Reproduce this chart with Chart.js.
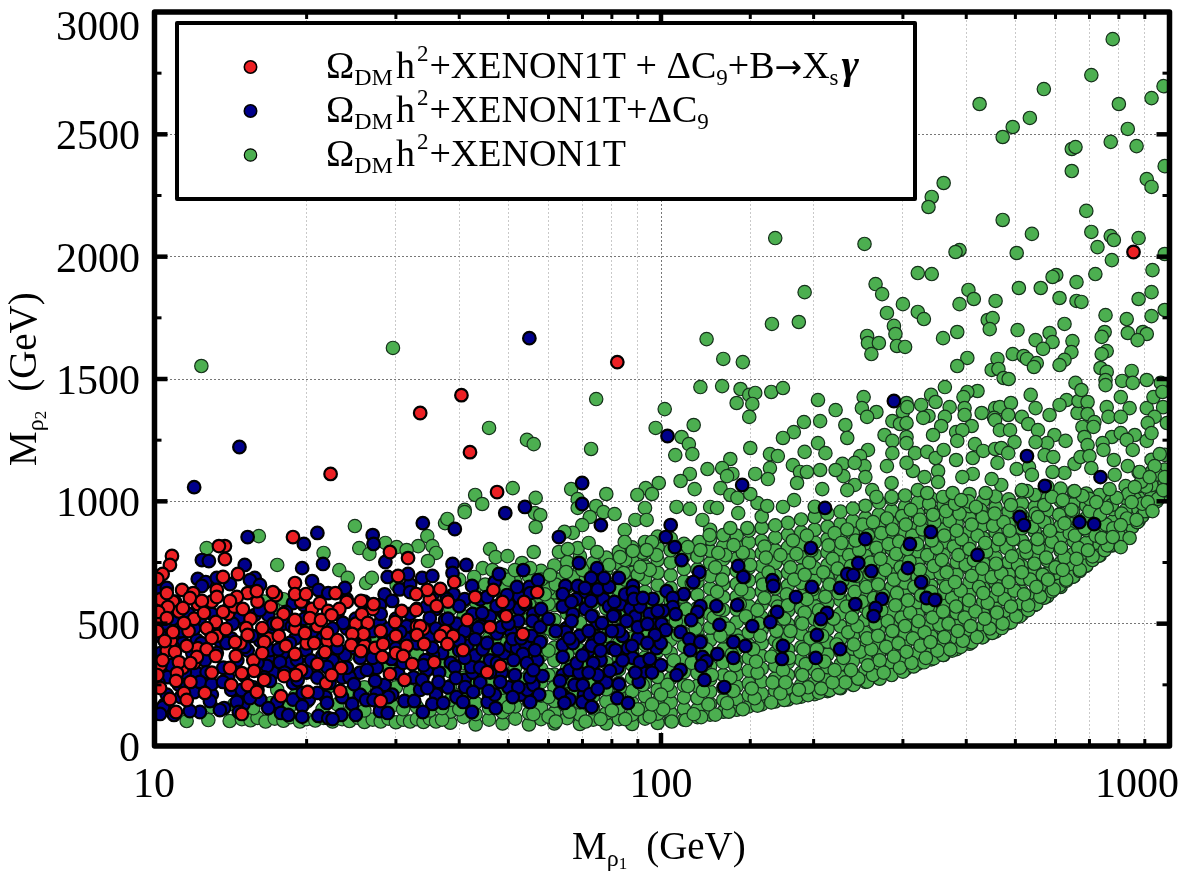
<!DOCTYPE html>
<html>
<head>
<meta charset="utf-8">
<title>Mrho2 vs Mrho1</title>
<script src="https://cdn.jsdelivr.net/npm/chart.js@4/dist/chart.umd.min.js"></script>
<style>
  html, body { margin: 0; padding: 0; background: #fff; }
  canvas { display: block; }
</style>
</head>
<body>
<canvas id="scan" width="1182" height="886"></canvas>
<script>
const xTickLabels = ['10', '100', '1000'];
const yTickLabels = ['0', '500', '1000', '1500', '2000', '2500', '3000'];

// [M_rho1, M_rho2] in GeV
const redPoints = [
  [855,2019],[82,1569],[33.5,1361],[40.4,1434],[42,1201],[22.3,1112],[47.5,1038],
  [10.3,600],[10.9,590],[11.2,550],[11.7,470],[12,520],[12.2,580],[13,590],[14,540],[14.4,570],[15.5,520],[16,590],[17,570],[18,540],[19.5,590],
  [20.5,560],[10.3,520],[10.8,430],[11.4,320],[12.2,400],[13.3,450],[14.8,420],[15.7,350],[16.8,440],[17.5,500],[19,480],[20,420],[10.3,330],
  [10.6,390],[12,340],[13,300],[14.2,250],[16.5,270],[19.5,310],[21,490],[22,430],[25,500],[27,560],[28,470],[30,450],[35,600],[38,590],[26,410],
  [30,380],[34,480],[37.5,470],
  [10.85,777],[10.75,740],[10.4,703],[10.15,683],[13.8,817],[13.43,817],[13.8,764],[18.8,854],[14.64,703],[13.68,691],
  [18.97,666],[17.4,617],[17.16,629],[18.97,621],[19.95,621],[10.6,625],[11.36,638],[11.95,625],[13.3,638],[15.3,625],
  [15.95,633],[14.57,609],[11.77,605],[12.43,593],[13.3,609],[14.12,593],[21.25,584],[22.06,552],[10.65,568],[10.2,548],
  [11.4,564],[12.55,544],[13.68,548],[14.97,560],[10.6,523],[11.46,503],[13.24,507],[18.97,515],[20.3,523],[21.35,515],
  [10.9,466],[10.15,470],[12.7,482],[13.87,478],[15.2,482],[16.35,482],[15.3,454],[17.63,450],[19.85,462],[21.95,462],
  [10.5,429],[13,441],[14.45,425],[16.5,425],[18.2,409],[20.7,421],[11,384],[11.6,409],[12.7,396],[16.35,380],[14.5,368],
  [13.24,368],[18.97,376],[21.75,384],[10.4,351],[11.2,343],[12.15,364],[11.8,339],[21,335],[10.15,290],[11.1,298],
  [14.12,319],[14.9,298],[15.75,307],[18.05,286],[19.05,290],[21.85,257],[11.05,266],[11.8,262],[10.28,237],[15.3,249],
  [15.95,221],[12.6,217],[11.46,217],[17.8,204],[20.1,221],[10.75,192],[11.6,188],[11.05,139],[14.9,131],
  [29.2,793],[31.7,768],[30.3,695],[39.1,670],[36.7,642],[34.6,638],[32.9,621],[22.8,625],[24,589],[25.6,593],[27.1,580],
  [23.2,560],[22.4,535],[30.8,552],[32.9,556],[36.1,572],[43,609],[46.7,638],[48.7,589],[53.7,589],[57,629],[49.5,531],
  [25.7,539],[26.4,503],[29.9,507],[41.5,515],[46,486],[25.9,458],[24.6,458],[23,433],[33,490],[33.5,490],[33,454],
  [36.7,450],[38.9,450],[53.4,458],[24.5,413],[27.3,401],[28.3,417],[31.5,409],[34.1,417],[37.9,417],[40.7,392],[25.6,388],
  [28.2,364],[31,368],[32.3,335],[35.7,343],[48.2,327],[45.4,302],[23.4,319],[29.2,294],[31.2,270],[23.3,225],[28,184],[22.4,290]
];

const bluePoints = [
  [36.5,300],[38,240],[39.5,200],[41,270],[42.5,300],[44,260],[45.5,180],[47,210],[48.5,300],[50,240],[51.5,290],[53,210],[54.5,230],[56,250],
  [57.5,210],[37,380],[38.5,340],[40,390],[41.5,410],[43,370],[44.5,395],[46,350],[47.5,340],[49,380],[50.5,410],[52,400],[54,420],[55.5,450],
  [57,350],[36,560],[38,480],[39.5,500],[41,470],[42.5,540],[44,490],[46,530],[47.5,460],[49,545],[50.5,470],[52.5,560],[54,580],[56,540],[58,560],
  [39,620],[41,600],[44,600],[47,670],[50,580],[52.5,610],[55,650],
  [22.5,350],[23.5,280],[24.5,400],[25.5,300],[26.5,390],[27.5,320],[28.5,250],[29.5,210],[30.5,350],[31.5,440],[32.5,280],[33.5,230],[34.5,310],
  [35.5,370],[24,480],[25,440],[27,470],[28.5,450],[30,520],[31.5,490],[33,560],[34.5,570],[35.5,620],[26,590],[28.5,620],[30.5,640],[32,660],
  [24,600],[23,540],[29,200],[36,210],[23.5,200],[25.5,210],[27.5,215],
  [64,290],[66,310],[67.5,250],[69,300],[70.5,210],[72,390],[74,440],[76,350],[78,260],[80,400],[82,320],[84,450],[86,400],[88,360],[90,440],
  [92,300],[94,350],[96,500],[98,400],[100,330],[65,480],[67,540],[69,450],[71,560],[73,410],[75,500],[77,600],[79,570],[81,540],[83,580],[85,620],
  [87,560],[89,530],[91,570],[95,540],[64,570],[68,600],[71,630],[75,640],[79,650],[64,210],[66,190],[70,180],[73,160],
  [10.3,450],[10.5,500],[11,590],[11.4,420],[11.9,380],[12.1,300],[12.6,350],[13,540],[13.5,430],[14,280],[14.2,440],[15.3,390],[15.7,240],[16.2,430],
  [16.8,360],[17.2,300],[17.5,460],[18,500],[18.6,340],[19,440],[20,300],[20.7,470],[21.5,370],[21.8,200],[10.5,170],[11.3,200],[12,220],[13,210],
  [14.2,230],[15,170],[16.2,190],[17.5,180],[18.8,190],[20.2,190],
  [55,1667],[12,1058],[14.74,1222],[104.5,903],[144.6,1067],[102.2,854],[106.5,813],[109.8,760],[119,711],[115.8,670],
  [142,736],[145.3,691],[102.6,633],[110.9,621],[105.5,605],[105.5,568],[100.8,552],[106.9,539],[119.6,572],[118,548],
  [114.7,515],[128.6,572],[141.4,576],[100.3,499],[102.2,474],[109.3,466],[130.4,495],[113.7,437],[119.6,425],[114.2,392],
  [99.9,421],[129.2,376],[138.9,425],[146.7,409],[138.9,360],[120.7,364],[122.9,347],[120.1,327],[109.3,311],[107.3,290],
  [121.8,270],[133.3,241],[151.4,490],[165.8,678],[166.5,654],[169.5,548],[164.3,507],[184.6,609],[174,409],[173.2,356],
  [198.4,650],[197.5,809],[210.6,973],[212.5,544],[206.8,519],[203,454],[202,360],[225.6,396],[225.6,646],[233,703],
  [239.5,699],[245,748],[260,715],[253,846],[241.7,580],[272.7,601],[265,564],[262.6,531],[309.7,826],[306.9,727],[326,670],
  [334,605],[347,597],[340.6,875],[421,781],[288,1410],[527,1185],[571.6,1063],[736,1099],[510,936],[520,903],[669,915],[715,907],[103,1267],
  [15.3,854],[21,871],[19.75,826],[12.43,760],[12.83,756],[15.1,740],[19.6,727],[21.55,744],[12.2,683],[12.65,670],[12.43,654],
  [15.8,687],[13.3,687],[14.12,662],[15.46,678],[16.18,658],[20.5,674],[21.1,638],[22.06,625],[10.2,646],[10.6,646],[18.8,584],
  [19.75,576],[15.8,535],[16.8,535],[18.2,548],[16.18,556],[14.77,527],[12.32,503],[17.16,462],[18.54,421],[19.95,392],[10.9,405],
  [12.15,433],[13.9,421],[15.1,405],[16.93,392],[17.95,380],[17.72,343],[19.15,351],[21.95,323],[16.7,327],[12.7,302],[10.65,282],
  [12.32,262],[13,253],[13.68,262],[16.93,266],[20,302],[14.9,229],[16,229],[18.8,257],[21,217],[19.65,217],[12.89,184],[14.57,180],
  [15.46,196],[21.95,176],[10.42,159],[10.28,131],[10.95,127],[12.32,139],[13.75,155],[14.7,139],[16.8,155],[19.6,163],[17.8,135],
  [18.4,127],[19.6,119],[21.1,123],[22.06,114],[11.77,143],[13.49,147],
  [69.9,1075],[69.9,989],[53.9,977],[49.3,952],[76.1,903],[62.9,854],[33.9,911],[39.2,887],[27,862],[27.1,826],[28.6,752],[68.9,748],
  [41.3,740],[38.8,744],[53.5,719],[47.9,703],[74.8,727],[31.7,703],[28.9,691],[33.8,687],[35.4,695],[38.8,707],[57.2,678],[72.8,687],
  [77.2,687],[82.6,687],[42.4,654],[52,650],[64.8,654],[68.5,654],[70.8,646],[88,654],[88,629],[23.8,646],[32,629],[37.8,601],[29.5,593],
  [64,621],[66.6,589],[72.8,593],[80.9,589],[88.4,601],[96.3,601],[92.1,605],[45.4,609],[49.7,617],[55.2,625],[40,572],[27.9,576],[44.4,544],
  [47.4,572],[55.8,511],[52.3,511],[66.6,511],[73,531],[80.5,531],[85.5,511],[90,486],[98.5,552],[94,499],[76.5,503],[27.9,503],[35,523],
  [37.5,515],[23.6,503],[30.6,466],[43.6,482],[48.4,486],[57.8,486],[64.8,466],[72,470],[82.6,470],[97.3,454],[29.5,433],[35,445],[43,437],
  [45.4,421],[51,437],[57.8,425],[64,413],[67,421],[75.8,441],[81.3,392],[87.7,409],[94,421],[23.8,372],[25.5,360],[35.4,401],[47.7,396],
  [53.4,376],[56.4,392],[64,364],[68.2,339],[73.5,339],[90.9,343],[95,356],[29.4,356],[34.3,351],[39.2,323],[42.2,323],[51.2,351],[54.4,339],
  [26.3,311],[24.3,282],[22.2,257],[27.3,266],[30.3,298],[33.8,270],[36.4,262],[39.4,278],[48.2,262],[52.3,241],[55.2,282],[58.4,286],
  [63.2,266],[70.1,249],[79.3,307],[75,290],[82.6,253],[90.4,262],[24.8,253],[34.6,237],[41.1,241],[42.6,221],[45.7,225],[51,200],[63.2,217],
  [72.4,212],[75,233],[82,196],[86.1,176],[64.5,176],[55.2,180],[47.2,155],[42.4,139],[40.7,180],[31.2,184],[32.6,184],[35.4,172],[37.2,176],
  [33.9,139],[24.6,172],[26.2,188],[27.1,188],[23.4,127],[25,127],[27.9,143],[28.9,135],[22.5,110],
  [10.4,560],[10.9,520],[11.3,470],[11.7,540],[12,480],[12.4,420],[12.9,470],[13.3,380],[13.7,320],[14.3,500],[14.6,350],[15,290],[15.6,450],
  [16,340],[16.5,280],[17.2,500],[17.6,395],[18.1,300],[18.7,490],[19.2,270],[19.8,520],[20.4,350],[21,280],[21.5,440],[10.3,380],[10.8,330],
  [11.2,250],[11.5,300],[10.2,260],[10.6,210],[22.5,480],[23,400],[24,320],[25,520],[26,430],[27,360],[28,540],[29,480],[30,400],[31,340],
  [32,540],[33,420],[34,330],[36,480],[38,520],[40,430],[41,360],[44,320],[46,300],[50,500],[53,440],[56,310],[60,520],[62,470],[66,440],
  [70,370],[72,300],[76,390],[80,470],[84,350],[89,300],[96,300]
];

// scattered points above the dense band
const greenUpper = [
  [778,2889],[706,2742],[569,2685],[980,2697],[928,2648],[425,2624],[800,2624],[534,2567],[494,2530],[472,2489],[833,2522],[771,2469],
  [867,2452],[646,2440],[657,2448],[646,2350],[985,2370],[908,2317],[928,2285],[361,2301],[342,2244],[337,2203],[690,2187],[472,2150],
  [706,2101],[539,2093],[771,2084],[782,2068],[875,2076],[252,2052],[726,2039],[503,2015],[388,2027],[381,2019],[775,1986],[985,2011],
  [932,1945],[719,1929],[321,1933],[342,1929],[602,1925],[592,1917],[660,1896],[265,1888],[192,1855],[273,1847],[404,1864],[508,1872],
  [561,1872],[928,1855],[875,1827],[611,1831],[414,1827],[457,1819],[660,1819],[675,1815],[300,1806],[388,1806],[168,2076],
  [29.6,1627],[12.4,1553],[74.5,1418],[45.8,1300],[54.4,1251],[56.1,1234],[72.8,1214],
  [165.5,1725],[187,1733],[123,1663],[132.7,1582],[145,1569],[119.6,1467],[132,1471],[143.5,1459],[149.3,1435],[153.4,1443],[165,1447],
  [174,1463],[141,1402],[151.4,1398],[149.3,1345],[101.7,1377],[116,1312],[97.6,1300],[191.4,1324],[182.8,1283],[174,1259],[109.8,1263],
  [113.5,1234],[150,1218],[106.7,1189],[115.3,1193],[164,1193],[170,1185],[192,1202],[137,1173],[123.5,1132],[132,1136],[164,1136],[182,1148],
  [114,1112],[138.3,1112],[135,1103],[153.4,1112],[188,1120],[194,1120],[109.3,1083],[162.5,1091],[185.5,1075],[99,1075],[93.3,1054],
  [116.5,1050],[131,1054],[51,1054],[43,1026],[44.4,989],[56.6,1014],[66.5,1050],[78,1030],[68.5,1009],[74.5,981],[89.8,1026],[41,965],
  [24.9,899],[25.4,809],[26.6,785],[28.6,830],[30.1,813],[33.2,817],[31.5,801],[34.6,858],[35.4,817],[36,789],[34.7,756],[23.2,719],[24.1,687],
  [26.2,666],[26.9,687],[30.1,658],[37.5,911],[37.9,928],[41,956],[56.4,952],[57.8,944],[56.6,895],[68.5,973],[77,956],[81,948],[72.4,936],
  [69.9,903],[67,871],[64.5,875],[96,1030],[93,973],[89,924],[93.7,924],[84.8,883],[84.8,834],[88,797],[83,772],[96,834],[93.7,801],[46,805],
  [47.2,772],[49.8,776],[56.1,793],[62.9,793],[68.5,809],[65.5,805],[72,830],[74.8,793],[79,740],[91,732],[44.5,727],[46.5,719],[53.2,748],
  [51.5,719],[55.2,727],[42.8,691],[60.4,699],[65,711],[84.4,707],[12.7,809],[16.1,858],[17.5,740],[21.6,789],[17.2,564],
  [137,1026],[141.5,1014],[155,993],[162,981],[174,977],[183,1005],[150,1030],[107.3,977],[114,969],[125,977],[129,973],[120.7,924],[142,952],
  [137,891],[148,891],[119,834],[124.7,862],[129.7,789],[139,821],[113,813],[119.6,801],
  [279,1770],[321,1774],[330,1745],[288,1717],[290,1684],[255,1676],[256,1647],[269,1647],[292,1635],[303,1631],[260,1602],[360,1667],[384,1692],
  [441,1741],[451,1749],[445,1704],[505,1700],[625,1725],[753,1761],[829,1745],[985,1782],[928,1757],[548,1659],[584,1688],[592,1651],[567,1623],
  [648,1655],[645,1610],[625,1578],[611,1557],[494,1602],[519,1594],[527,1582],[551,1565],[544,1549],[461,1582],[449,1537],[463,1541],[474,1504],
  [485,1500],[402,1586],[384,1553],[750,1692],[740,1672],[833,1688],[892,1692],[908,1684],[871,1659],[757,1614],[740,1602],[736,1545],[757,1529],
  [753,1496],[753,1475],[848,1533],[812,1492],[852,1484],[908,1496],[968,1484],[363,1467],[421,1451],[402,1447],[395,1426],[341,1435],[348,1406],
  [326,1394],[305,1402],[204,1414],[221,1373],[251,1426],[249,1381],[266,1365],[255,1345],[300,1365],[306,1385],[337,1349],[329,1341],[371,1385],
  [397,1381],[397,1353],[429,1361],[363,1345],[456,1381],[466,1385],[490,1402],[484,1353],[454,1341],[536,1435],[548,1381],[515,1345],[584,1353],
  [631,1414],[611,1394],[663,1361],[666,1410],[694,1406],[657,1484],[675,1455],[807,1426],[840,1381],[757,1385],[694,1357],[763,1345],[807,1345],
  [908,1381],[936,1426],[978,1385],[941,1345],[975,1447],[995,1320],[912,1320],[716,1324],[678,1304],[713,1304],[206,1328],[231,1312],[286,1328],
  [296,1316],[305,1320],[357,1308],[382,1283],[410,1308],[393,1291],[456,1332],[466,1291],[488,1291],[530,1316],[554,1291],[597,1271],[578,1238],
  [628,1247],[233,1259],[276,1271],[305,1263],[286,1247],[305,1238],[344,1271],[384,1247],[416,1234],[498,1242],[548,1242],[684,1263],[694,1230],
  [775,1263],[807,1279],[860,1271],[908,1247],[829,1251],[928,1279],[743,1238],[852,1210],[204,1238],[211,1197],[256,1210],[247,1185],[286,1197],
  [317,1197],[335,1202],[348,1177],[361,1210],[382,1169],[412,1177],[432,1206],[456,1214],[469,1218],[484,1197],[461,1157],[503,1132],[532,1140],
  [539,1108],[571,1189],[594,1181],[654,1153],[672,1181],[700,1185],[706,1136],[746,1210],[782,1169],[833,1144],[963,1193],[879,1120],[941,1144],
  [785,1108],[920,1099],[985,1099],[860,1058],[978,1046],[912,997],[932,960],[848,997],[792,1014],[767,1050],[867,924],[807,903],[840,850],[807,813],
  [778,854],[757,973],[722,997],[678,1022],[654,1042],[625,1116],[592,1120],[527,1042],[469,1067],[449,1091],[412,1112],[393,1099],[352,1124],
  [352,1079],[331,1099],[314,1124],[305,1157],[285,1075],[279,1144],[252,1144],[228,1153],[241,1157],[229,1103],[221,1128],[206,1128],[208,1050],
  [241,1067],[233,1046],[253,1099],[261,1046],[266,1018],[285,1018],[321,1046],[335,1034],[360,1018],[376,1034],[391,1005],[418,977],[437,1034],
  [515,1046],[554,936],[590,1018],[620,1005],[645,965]
];

// low-mass points along the bottom of the scan, mostly behind the blue ones
const greenFloor = [
  [11.6,102],[12.8,106],[14.1,102],[14.9,110],[15.5,105],[16,115],[16.6,100],[17.3,112],[18,103],[18.6,118],[19.4,100],[20,110],[20.8,104],
  [21.6,115],[22.5,100],[23.5,110],[24.3,102],[25.3,115],[26,98],[27,108],[28,100],[29,112],[30,97],[31,108],[32,100],[33,110],[34,98],[35,112],
  [36,100],[37,108],[13,160],[14.4,170],[15.7,155],[17,175],[18.5,160],[20,180],[21.5,150],[23,170],[24.5,150],[26,145],[28,155],[29.5,165],
  [31,150],[33,160],[35,145],[37,155],[22,240],[24,215],[26,240],[28,225],[30,240],[32,225],[34,290],[36,220],[15,210],[17.5,230],[19,205],
  [24,370],[29,320],[33,380],[37,350],[27,430],[31,440],[20,480],[16.5,400],[14,560],[18,600],[16.5,590]
];

// dense band, one column per [M_rho1, [M_rho2 ...]]
const greenBandA = [
  [38.4,[95,140,188,245,305,372,432,498,560,612]],
  [43.1,[88,130,176,228,284,346,410,470,528,590,650]],
  [48.7,[92,138,192,238,300,352,418,472,534,594,648,700]],
  [54.9,[88,134,180,232,288,342,404,462,520,578,636,694]],
  [61.6,[92,136,184,240,292,350,402,460,516,576,628,684,738]],
  [69.2,[90,128,178,226,282,336,392,448,504,560,612,668,722,776]],
  [78,[92,134,182,232,288,340,398,450,506,562,614,668,724,770]],
  [87.7,[90,128,176,224,278,332,386,440,498,548,604,656,708,764,812]],
  [98.5,[94,132,180,230,282,336,388,444,494,552,604,658,708,760,812,856]],
  [111,[108,152,198,248,302,352,408,460,516,566,620,672,724,776,826]],
  [125,[128,172,222,272,326,378,432,484,538,590,644,694,748,798,846,884]],
  [141,[148,192,244,294,348,398,452,506,558,610,662,716,766,818,860]],
  [158,[170,214,264,316,368,420,474,526,578,632,684,736,788,838,892,938]],
  [178,[190,238,290,342,394,446,498,552,602,656,708,760,812,864,912]],
  [201,[212,260,310,362,414,468,518,572,624,676,728,782,832,884,936,978]],
  [226,[236,282,334,386,438,490,542,596,646,700,752,804,856,908,958]],
  [253,[262,308,358,410,462,516,566,620,672,724,778,828,880,932,982]],
  [285,[292,338,390,442,494,546,598,650,702,754,806,858,910,962,1010]],
  [321,[336,382,432,484,536,588,640,692,744,796,848,900,950,996]],
  [361,[372,420,470,522,574,626,678,730,780,834,886,938,984]],
  [406,[418,464,516,566,620,670,724,776,826,880,932,980,1030]],
  [457,[468,512,562,614,666,716,770,820,874,924,976,1020]],
  [515,[538,582,632,684,736,786,840,890,942,990,1040]],
  [578,[612,656,706,758,808,860,912,962,1012,1060]],
  [651,[692,736,786,838,888,940,990,1040]],
  [733,[778,824,874,926,976,1026]],
  [825,[866,914,964,1014,1062]],
  [928,[972,1018,1066,1120,1170]]
];

const greenBandB = [
  [40.8,[118,165,222,280,340,400,465,530,590]],
  [45.8,[108,155,205,262,318,380,442,505,565,625]],
  [51.6,[112,162,212,266,322,378,440,498,558,618,672]],
  [58,[110,158,206,260,316,370,432,490,548,606,664,716]],
  [65.3,[114,160,210,266,318,374,430,484,542,596,650,706,752]],
  [73.5,[108,154,204,256,310,364,422,476,532,586,642,696,748]],
  [82.6,[110,156,206,258,312,362,420,474,530,586,638,692,746,794]],
  [93,[112,156,204,256,306,362,414,468,522,578,630,684,734,786,834]],
  [104.5,[104,134,178,224,276,328,380,434,488,540,594,646,698,750,800,848]],
  [118,[118,150,196,246,298,352,404,458,512,564,618,670,722,774,824]],
  [132.7,[140,188,238,290,342,396,448,502,556,608,660,712,764,816,862]],
  [149,[162,208,256,308,360,412,464,518,572,624,676,728,780,832,880]],
  [168,[182,226,276,328,380,432,486,538,590,644,696,748,800,852,902]],
  [189,[202,250,300,352,404,458,510,562,614,666,718,772,824,874,926]],
  [213,[224,270,322,374,426,478,530,584,636,688,740,792,846,896,950]],
  [239,[250,296,346,398,450,504,556,608,660,712,766,818,868,920,970]],
  [269,[278,322,372,424,476,528,582,634,686,738,792,842,894,946,996]],
  [303,[312,358,408,460,512,564,616,668,720,774,824,876,928,978,1024]],
  [341,[354,398,448,500,552,604,656,708,760,812,864,916,966,1012]],
  [383,[396,442,490,544,596,648,700,752,804,858,908,960,1006]],
  [432,[446,490,540,590,644,694,748,798,850,902,954,1002]],
  [485,[502,548,598,650,702,752,806,858,908,958,1008]],
  [546,[576,620,670,722,772,824,876,926,976,1026]],
  [614,[650,696,748,798,850,900,950,1002,1052]],
  [690,[736,780,830,882,932,982,1032]],
  [778,[820,868,918,968,1018]],
  [875,[920,966,1014,1062,1118]],
  [985,[1040,1076,1130,1190]]
];

// further band points lying between the columns above
const greenInfill = [
  [101,150],[103,250],[106,350],[108,455],[112,560],[115,665],[116,130],[121,225],[122,330],[120,430],[127,525],[129,630],[128,730],[135,175],
  [137,280],[138,375],[136,480],[143,580],[146,690],[145,790],[153,195],[155,300],[152,395],[156,500],[160,605],[163,710],[160,815],[172,215],
  [174,310],[171,415],[175,520],[177,620],[180,730],[182,840],[195,240],[193,335],[197,440],[192,545],[199,640],[196,750],[194,860],[207,235],
  [210,345],[208,450],[205,555],[215,660],[218,765],[220,870],[231,260],[229,360],[234,465],[232,570],[228,675],[235,780],[233,885],[245,275],
  [247,385],[244,490],[249,590],[243,695],[246,800],[250,905],[262,290],[260,395],[265,500],[263,605],[258,705],[266,810],[262,915],[275,300],
  [278,405],[280,510],[274,615],[277,720],[281,825],[279,930],[296,320],[294,420],[298,525],[292,625],[297,730],[295,835],[299,940],[312,340],
  [314,440],[310,545],[316,650],[309,755],[313,860],[311,965],[333,360],[331,465],[336,570],[329,675],[335,780],[328,885],[338,990],[351,390],
  [354,495],[348,600],[356,705],[350,810],[346,915],[372,395],[369,500],[375,605],[366,710],[378,815],[371,920],[394,430],[397,525],[390,635],
  [399,740],[392,845],[388,950],[420,445],[417,550],[424,650],[414,760],[421,860],[427,965],[445,480],[441,585],[449,690],[438,795],[452,900],
  [472,500],[476,600],[469,705],[480,810],[474,915],[502,530],[498,635],[506,740],[495,845],[510,950],[530,575],[535,680],[526,790],[540,895],
  [560,610],[566,700],[555,810],[570,915],[595,640],[600,730],[590,835],[610,945],[630,680],[625,770],[640,870],[670,720],[665,810],[660,925],
  [710,775],[720,860],[700,960],[760,820],[755,905],[770,1000],[800,860],[810,950],[870,915],[860,1010],[900,960],[905,1060],[955,1010],[950,1110],
  [40,150],[42,250],[44,340],[47,440],[50,160],[53,270],[56,130],[57,380],[60,120],[60,200],[60,290],[60,390],[60,480],[60,580],[60,640],[62,100],
  [66,140],[68,230],[71,100],[72,330],[76,110],[80,145],[83,240],[85,110],[90,150],[92,250],[95,120],[96,170],
  [100,210],[102,400],[107,510],[110,610],[113,245],[115,340],[117,480],[119,700],[124,170],[126,290],[123,395],[131,450],[130,560],[132,680],[134,780],
  [139,225],[140,330],[142,430],[147,530],[144,640],[150,740],[151,235],[154,345],[157,450],[155,555],[159,660],[161,770],[166,260],[165,365],[169,470],
  [170,570],[167,670],[172,780],[176,260],[179,360],[180,470],[178,575],[183,680],[185,785],[187,230],[190,290],[191,395],[190,500],[194,600],[192,700],
  [198,800],[204,290],[203,395],[206,505],[211,610],[209,710],[214,820],[218,260],[220,310],[222,415],[219,520],[224,625],[223,725],[227,830],[237,310],
  [240,415],[238,525],[241,630],[237,735],[242,840],[256,330],[255,440],[257,545],[254,650],[259,750],[256,860],[270,350],[268,450],[272,555],[268,660],
  [271,765],[272,870],[288,365],[286,470],[290,575],[288,680],[291,785],[286,885],[305,385],[303,490],[307,595],[302,700],[306,805],[304,905],[325,410],
  [322,510],[326,615],[324,720],[320,825],[324,925],[340,425],[343,525],[341,630],[345,735],[342,840],[344,945],[362,445],[360,550],[365,650],[358,760],
  [362,860],[365,960],[385,470],[382,570],[380,670],[386,780],[383,880],[380,990],[408,490],[405,595],[410,695],[406,805],[410,905],[404,1000],[435,520],
  [432,625],[430,725],[436,830],[431,935],[460,545],[462,640],[458,745],[464,845],[455,950],[490,570],[485,670],[492,775],[487,880],[490,985],[520,620],
  [515,710],[523,815],[516,920],[550,650],[545,745],[553,845],[548,950],[580,680],[575,770],[585,880],[570,985],[620,720],[615,810],[625,910],[660,765],
  [655,860],[650,960],[695,800],[685,890],[700,1010],[740,850],[735,945],[780,890],[775,985],[830,930],[835,1030],[890,990],[885,1080],
  [63,680],[67,690],[74,680],[78,720],[85,680],[90,700],[95,720],[98,780],[92,790],[85,760],[70,720],[59,620],[62,660],[58,680],[50,680],[45,660],[40,680]
];

// lowest points of the band
const greenEdge = [
  [105,100],[112,106],[120,118],[128,128],[136,140],[145,150],[155,165],[165,178],[175,188],[185,198],[195,208],[205,218],[215,228],[225,238],[240,250],
  [255,263],[270,275],[285,290],[300,304],[315,325],[330,342],[345,358],[360,372],[375,390],[390,405],[410,424],[430,444],[450,462],[470,482],[490,505],
  [510,530],[530,555],[550,580],[570,606],[590,632],[610,655],[630,675],[650,692],[670,715],[690,738],[710,760],[730,778],[750,800],[770,820],[790,842],
  [810,858],[830,875],[850,895],[870,915],[890,940],[910,960],[930,975],[950,1000],[970,1020],[990,1045]
];

const SERIF = '"Liberation Serif"';
const MARK_RED = '#ec2024';
const MARK_BLUE = '#00008b';
const MARK_GREEN = '#4caf50';

const toXY = ([x, y]) => ({ x, y });
const columnsToXY = cols => cols.flatMap(([x, ys]) => ys.map(y => ({ x, y })));

const greenData = [
  ...columnsToXY(greenBandA),
  ...columnsToXY(greenBandB),
  ...greenEdge.map(toXY),
  ...greenInfill.map(toXY),
  ...greenFloor.map(toXY),
  ...greenUpper.map(toXY)
];

function font(size, style, family) {
  return `${style || ''} ${size}px ${family || SERIF}`;
}

// Draws mixed-size text (subscripts, superscripts) from left to right.
function drawRuns(ctx, runs, x, y) {
  ctx.textAlign = 'left';
  ctx.textBaseline = 'alphabetic';
  for (const r of runs) {
    ctx.font = font(r.size || 38, r.style, r.family);
    ctx.fillText(r.text, x, y + (r.dy || 0));
    x += ctx.measureText(r.text).width + (r.gap || 0);
  }
}

const omegaDm = [
  { text: 'Ω' },
  { text: 'DM', size: 24, dy: 7, gap: 3 },
  { text: 'h', gap: 2 },
  { text: '2', size: 23, dy: -17, gap: 1 },
  { text: '+XENON1T' }
];

const legendRows = [
  {
    color: MARK_RED,
    runs: [...omegaDm,
      { text: ' + ΔC' }, { text: '9', size: 23, dy: 7 }, { text: '+B' },
      { text: '→', family: '"DejaVu Sans"', size: 33 }, { text: 'X' },
      { text: 's', size: 23, dy: 7, gap: 3 }, { text: 'γ', style: 'italic bold', size: 42 }]
  },
  {
    color: MARK_BLUE,
    runs: [...omegaDm, { text: '+ΔC' }, { text: '9', size: 23, dy: 7 }]
  },
  { color: MARK_GREEN, runs: omegaDm }
];

const frameDecor = {
  id: 'frameDecor',
  afterDraw(chart) {
    const { ctx, chartArea: area, scales: { x, y } } = chart;
    const left = area.left + 0.5, right = area.right + 1.5;
    const top = area.top, bottom = area.bottom;
    ctx.save();
    ctx.fillStyle = '#000';
    ctx.strokeStyle = '#000';

    // inward ticks on all four sides
    x.ticks.forEach(t => {
      const px = x.getPixelForValue(t.value);
      if (px <= left + 1 || px >= right - 3) return;
      const major = t.value === 100;
      const len = major ? 13 : 7;
      const w = major ? 4.5 : 3;
      ctx.fillRect(px - w / 2, bottom - len, w, len);
      ctx.fillRect(px - w / 2, top, w, len);
    });
    y.ticks.forEach(t => {
      if (t.value <= 0 || t.value >= 3000) return;
      const py = y.getPixelForValue(t.value);
      const major = t.value % 500 === 0;
      const len = major ? 13 : 7;
      const w = major ? 4.5 : 3;
      ctx.fillRect(left, py - w / 2, len, w);
      ctx.fillRect(right - len, py - w / 2, len, w);
    });

    ctx.lineWidth = 5.5;
    ctx.lineJoin = 'round';
    ctx.strokeRect(left, top, right - left, bottom - top);

    // tick labels; the end labels are pulled inside the canvas
    ctx.font = font(42);
    ctx.textBaseline = 'alphabetic';
    ctx.textAlign = 'right';
    yTickLabels.forEach(label => {
      const v = Number(label);
      const py = y.getPixelForValue(v) + (v === 3000 ? 28 : 15);
      ctx.fillText(label, 140, py);
    });
    ctx.textAlign = 'center';
    xTickLabels.forEach(label => {
      const v = Number(label);
      const px = v === 1000 ? x.getPixelForValue(v) - 31 : x.getPixelForValue(v);
      ctx.fillText(label, px, 797);
    });

    // axis titles
    const titleRuns = sub => [
      { text: 'M', size: 39 }, { text: 'ρ', size: 24, dy: 7 }, { text: sub, size: 17, dy: 10, gap: 19 }, { text: '(GeV)', size: 39 }
    ];
    drawRuns(ctx, titleRuns('1'), 572, 859);
    ctx.save();
    ctx.translate(36, 466);
    ctx.rotate(-Math.PI / 2);
    drawRuns(ctx, titleRuns('2'), 0, 0);
    ctx.restore();

    // legend box
    ctx.fillStyle = '#fff';
    ctx.fillRect(177, 23, 738, 176);
    ctx.lineWidth = 4;
    ctx.lineJoin = 'round';
    ctx.strokeRect(177, 23, 738, 176);
    legendRows.forEach((row, i) => {
      const cy = 67 + i * 44;
      ctx.beginPath();
      ctx.arc(250.5, cy, 6.2, 0, Math.PI * 2);
      ctx.fillStyle = row.color;
      ctx.fill();
      ctx.lineWidth = i === 2 ? 1.2 : 1.6;
      ctx.strokeStyle = '#000';
      ctx.stroke();
      ctx.fillStyle = '#000';
      drawRuns(ctx, row.runs, 326, cy + 11);
    });
    ctx.restore();
  }
};

new Chart(document.getElementById('scan'), {
  type: 'scatter',
  data: {
    datasets: [
      { label: 'red', data: redPoints.map(toXY), backgroundColor: MARK_RED, borderColor: '#000', borderWidth: 2.2, pointRadius: 6.3 },
      { label: 'blue', data: bluePoints.map(toXY), backgroundColor: MARK_BLUE, borderColor: '#000', borderWidth: 2.2, pointRadius: 6.3 },
      { label: 'green', data: greenData, backgroundColor: MARK_GREEN, borderColor: '#15301a', borderWidth: 1.2, pointRadius: 6.7 }
    ]
  },
  options: {
    responsive: false,
    animation: false,
    layout: { padding: { left: 154, right: 14, top: 12, bottom: 140 } },
    plugins: { legend: { display: false }, tooltip: { enabled: false } },
    scales: {
      x: {
        type: 'logarithmic',
        min: 10,
        max: 1000,
        ticks: { display: false },
        border: { display: false, dash: [2, 2] },
        grid: {
          drawTicks: false,
          color: c => (c.tick.value === 100 ? '#777' : '#c9c9c9'),
          lineWidth: 1
        }
      },
      y: {
        min: 0,
        max: 3000,
        ticks: { display: false, stepSize: 250 },
        border: { display: false, dash: [2, 2] },
        grid: {
          drawTicks: false,
          color: c => (c.tick.value % 500 === 0 ? '#777' : 'rgba(0,0,0,0)'),
          lineWidth: 1
        }
      }
    }
  },
  plugins: [frameDecor]
});
</script>
</body>
</html>
